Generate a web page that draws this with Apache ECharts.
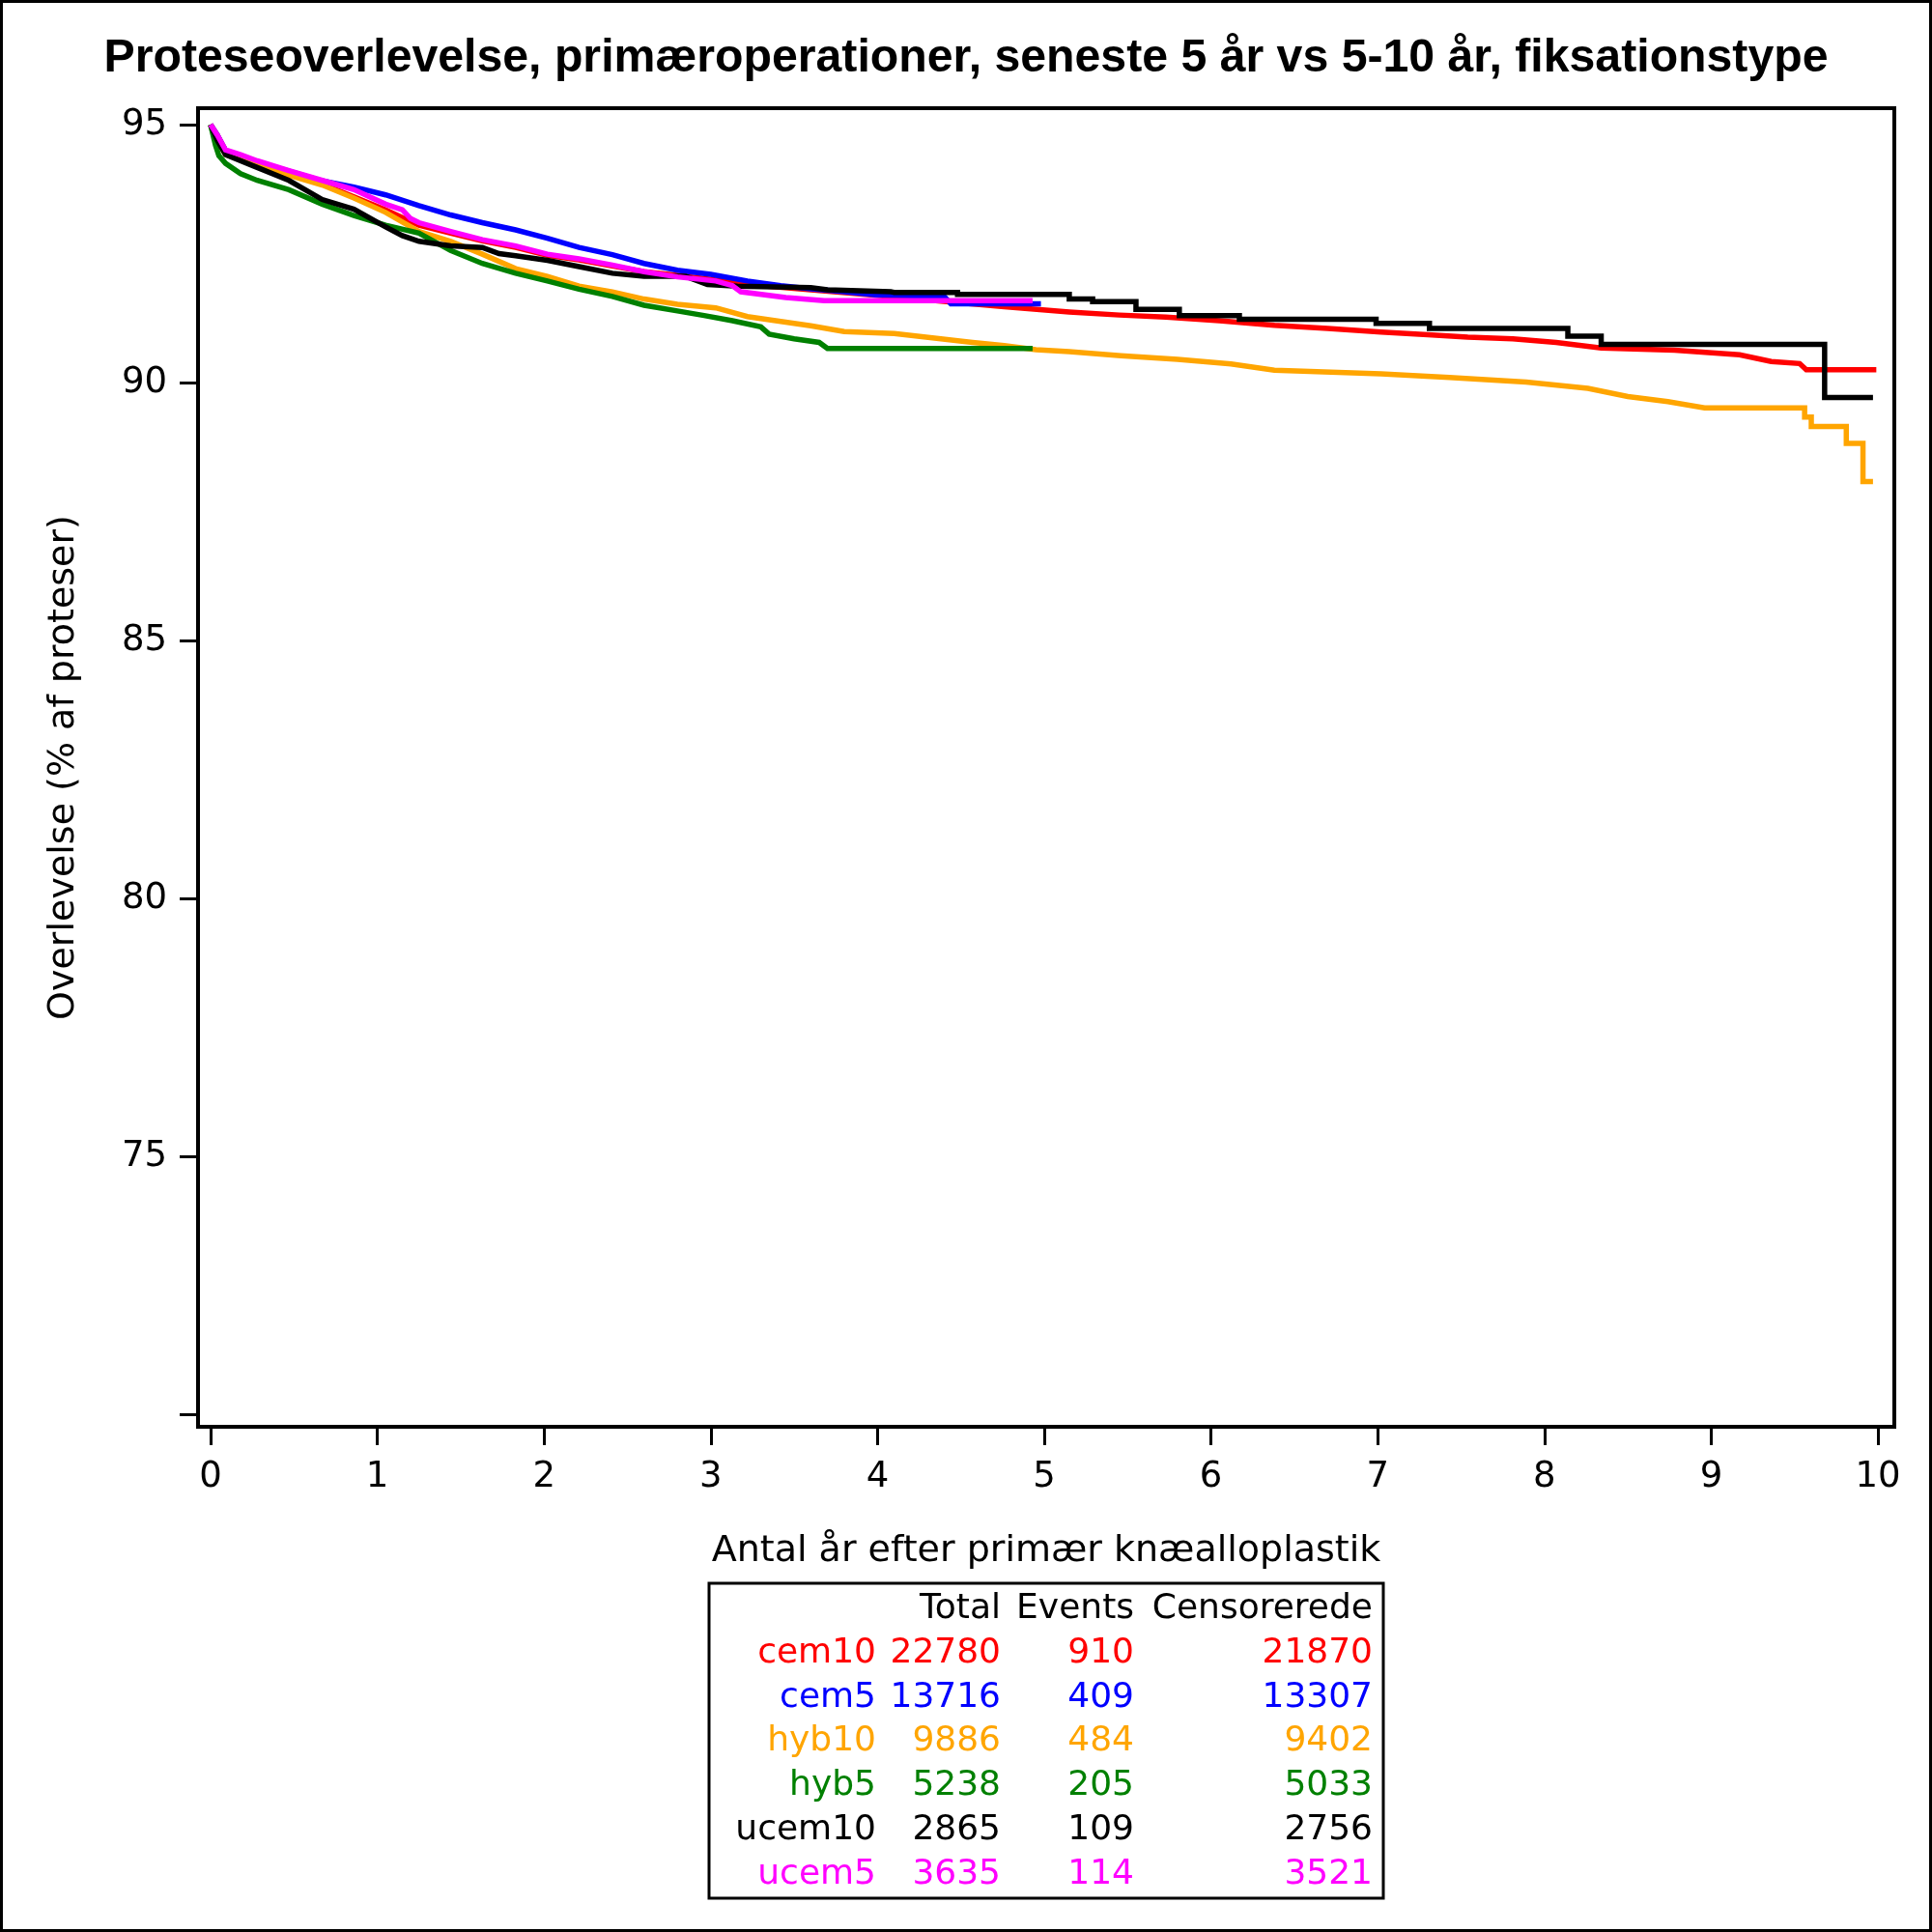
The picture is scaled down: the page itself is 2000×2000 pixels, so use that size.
<!DOCTYPE html>
<html>
<head>
<meta charset="utf-8">
<script src="https://cdn.jsdelivr.net/npm/echarts@6/dist/echarts.min.js"></script>
<style>
  html, body { margin: 0; padding: 0; background: #fff; }
  #chart { width: 2000px; height: 2000px; }
</style>
</head>
<body>
<div id="chart"></div>
<script>
// Kaplan-Meier kurver: [år, overlevelse %]
// synlige trin er angivet med begge hjørner
const cem10 = [[0,95.0],[0.04,94.8],[0.09,94.5],[0.28,94.25],[0.47,94.05],[0.67,93.85],[0.86,93.6],
  [1.05,93.35],[1.25,93.05],[1.44,92.9],[1.63,92.75],[1.83,92.62],[2.02,92.47],[2.21,92.38],
  [2.41,92.26],[2.6,92.15],[2.8,92.08],[3.0,92.0],[3.22,91.9],[3.6,91.8],[4.0,91.69],[4.38,91.58],
  [4.76,91.47],[5.15,91.37],[5.45,91.31],[5.73,91.27],[6.05,91.2],[6.38,91.11],[6.7,91.05],
  [7.02,90.98],[7.3,90.93],[7.54,90.88],[7.81,90.85],[8.07,90.78],[8.34,90.67],[8.78,90.63],
  [9.17,90.54],[9.36,90.41],[9.53,90.37],[9.57,90.25],[9.99,90.25]];
const cem5 = [[0,95.0],[0.04,94.8],[0.09,94.5],[0.28,94.28],[0.47,94.1],[0.67,93.91],[0.86,93.79],
  [1.05,93.64],[1.25,93.43],[1.44,93.25],[1.63,93.1],[1.83,92.96],[2.02,92.8],[2.21,92.62],
  [2.41,92.48],[2.6,92.31],[2.8,92.18],[3.0,92.1],[3.22,91.97],[3.42,91.88],[3.6,91.82],
  [3.8,91.76],[3.99,91.7],[4.4,91.67],[4.44,91.53],[4.98,91.53]];
const hyb10 = [[0,95.0],[0.04,94.7],[0.09,94.42],[0.18,94.32],[0.28,94.23],[0.47,94.02],[0.67,93.83],
  [0.86,93.58],[1.05,93.3],[1.25,92.93],[1.44,92.74],[1.63,92.49],[1.83,92.21],[2.02,92.06],
  [2.21,91.87],[2.41,91.76],[2.6,91.62],[2.8,91.52],[3.03,91.45],[3.22,91.28],[3.41,91.19],
  [3.6,91.1],[3.8,90.99],[4.1,90.95],[4.38,90.85],[4.57,90.78],[4.76,90.72],[4.95,90.64],
  [5.15,90.6],[5.46,90.52],[5.8,90.45],[6.12,90.36],[6.38,90.24],[7.02,90.17],[7.43,90.1],
  [7.89,90.01],[8.26,89.89],[8.5,89.73],[8.74,89.63],[8.96,89.51],[9.56,89.51],[9.56,89.33],
  [9.6,89.33],[9.6,89.15],[9.81,89.15],[9.81,88.82],[9.91,88.82],[9.91,88.08],[9.97,88.08]];
const hyb5 = [[0,95.0],[0.03,94.6],[0.05,94.4],[0.09,94.25],[0.18,94.05],[0.28,93.92],[0.47,93.74],
  [0.67,93.46],[0.86,93.24],[1.05,93.05],[1.25,92.9],[1.44,92.56],[1.63,92.31],[1.83,92.12],
  [2.02,91.97],[2.21,91.81],[2.41,91.67],[2.6,91.5],[2.8,91.39],[2.96,91.3],[3.13,91.2],
  [3.3,91.08],[3.35,90.94],[3.5,90.85],[3.65,90.78],[3.7,90.66],[4.93,90.66]];
const ucem10 = [[0,95.0],[0.04,94.7],[0.09,94.42],[0.28,94.17],[0.47,93.92],[0.67,93.55],[0.86,93.36],
  [1.05,93.02],[1.15,92.85],[1.25,92.74],[1.44,92.65],[1.63,92.62],[1.73,92.5],[1.83,92.46],
  [2.02,92.37],[2.21,92.25],[2.41,92.12],[2.6,92.06],[2.85,92.06],[2.98,91.9],[3.16,91.87],
  [3.6,91.84],[3.7,91.8],[4.08,91.76],[4.1,91.75],[4.48,91.75],[4.48,91.71],[5.15,91.71],
  [5.15,91.62],[5.29,91.62],[5.29,91.57],[5.55,91.57],[5.55,91.42],[5.81,91.42],[5.81,91.3],
  [6.17,91.3],[6.17,91.23],[6.99,91.23],[6.99,91.15],[7.31,91.15],[7.31,91.05],[8.14,91.05],
  [8.14,90.9],[8.34,90.9],[8.34,90.74],[9.68,90.74],[9.68,89.71],[9.97,89.71]];
const ucem5 = [[0,95.0],[0.04,94.8],[0.09,94.51],[0.18,94.42],[0.28,94.3],[0.47,94.11],[0.67,93.92],
  [0.86,93.74],[1.05,93.46],[1.15,93.35],[1.2,93.18],[1.25,93.1],[1.44,92.93],[1.63,92.77],
  [1.83,92.65],[2.02,92.49],[2.21,92.4],[2.41,92.28],[2.6,92.15],[2.8,92.05],[3.03,91.97],
  [3.13,91.88],[3.18,91.76],[3.45,91.65],[3.68,91.59],[4.93,91.59]];

// tabel under figuren
const groups = ['cem10', 'cem5', 'hyb10', 'hyb5', 'ucem10', 'ucem5'];
const totals = [22780, 13716, 9886, 5238, 2865, 3635];
const events = [910, 409, 484, 205, 109, 114];
const censored = [21870, 13307, 9402, 5033, 2756, 3521];
const headers = ['Total', 'Events', 'Censorerede'];

const xTicks = [0, 1, 2, 3, 4, 5, 6, 7, 8, 9, 10];
const yTicks = [70, 75, 80, 85, 90, 95];
const yLabels = [75, 80, 85, 90, 95];

const curves = [cem10, cem5, hyb10, hyb5, ucem10, ucem5];
const colors = ['#ff0000', '#0000ff', '#ffa500', '#008000', '#000000', '#ff00ff'];
const FONT = 'DejaVu Sans';
const TITLE = 'Proteseoverlevelse, primæroperationer, seneste 5 år vs 5-10 år, fiksationstype';

const chart = echarts.init(document.getElementById('chart'), null, { renderer: 'canvas' });

// titlen er smal og fed i originalen: klem en almindelig fed skrift sammen
const titleFont = 'bold 49px "Liberation Sans"';
const ctx = document.createElement('canvas').getContext('2d');
ctx.font = titleFont;
const titleScale = 1785 / ctx.measureText(TITLE).width;

const graphic = [
  { type: 'rect', shape: { x: 1.5, y: 1.5, width: 1997, height: 1997 },
    style: { fill: 'none', stroke: '#000', lineWidth: 3 } },
  { type: 'text', x: 1000, y: 60, scaleX: titleScale,
    style: { text: TITLE, x: 0, y: 0, align: 'center', verticalAlign: 'middle',
      font: titleFont, fill: '#000' } },
  { type: 'rect', shape: { x: 734, y: 1639, width: 698, height: 326 },
    style: { fill: 'none', stroke: '#000', lineWidth: 3 } }
];
const colX = [907, 1036, 1174, 1421];
const rowY0 = 1666, rowH = 45.7;
headers.forEach(function (h, j) {
  graphic.push({ type: 'text', style: { text: h, x: colX[j + 1], y: rowY0, align: 'right',
    verticalAlign: 'middle', fill: '#000', fontSize: 36, fontFamily: FONT } });
});
groups.forEach(function (g, i) {
  const y = rowY0 + rowH * (i + 1);
  [g, totals[i], events[i], censored[i]].forEach(function (v, j) {
    graphic.push({ type: 'text', style: { text: String(v), x: colX[j], y: y, align: 'right',
      verticalAlign: 'middle', fill: colors[i], fontSize: 36, fontFamily: FONT } });
  });
});

const option = {
  animation: false,
  backgroundColor: '#fff',
  grid: { left: 205, right: 39, top: 112, bottom: 523, show: true, borderColor: '#000', borderWidth: 4 },
  xAxis: {
    type: 'value', min: -0.075, max: 10.098,
    name: 'Antal år efter primær knæalloplastik',
    nameLocation: 'middle', nameGap: 110,
    nameTextStyle: { fontSize: 38, fontFamily: FONT, color: '#000' },
    axisLine: { show: false, onZero: false },
    axisTick: { show: true, length: 19, customValues: xTicks, lineStyle: { color: '#000', width: 3 } },
    axisLabel: { customValues: xTicks, margin: 34, fontSize: 37, fontFamily: FONT, color: '#000' },
    splitLine: { show: false }
  },
  yAxis: {
    type: 'value', min: 69.757, max: 95.32,
    name: 'Overlevelse (% af proteser)',
    nameLocation: 'middle', nameGap: 120, nameRotate: 90,
    nameTextStyle: { fontSize: 38, fontFamily: FONT, color: '#000' },
    axisLine: { show: false, onZero: false },
    axisTick: { show: true, length: 19, customValues: yTicks, lineStyle: { color: '#000', width: 3 } },
    axisLabel: { customValues: yLabels, margin: 32, fontSize: 37, fontFamily: FONT, color: '#000' },
    splitLine: { show: false }
  },
  graphic: graphic,
  series: curves.map(function (d, i) {
    return {
      name: groups[i], type: 'line', data: d,
      showSymbol: false, clip: true,
      lineStyle: { color: colors[i], width: 5.5, cap: 'butt', join: 'miter' },
      z: 2 + i
    };
  })
};

chart.setOption(option);
</script>
</body>
</html>
